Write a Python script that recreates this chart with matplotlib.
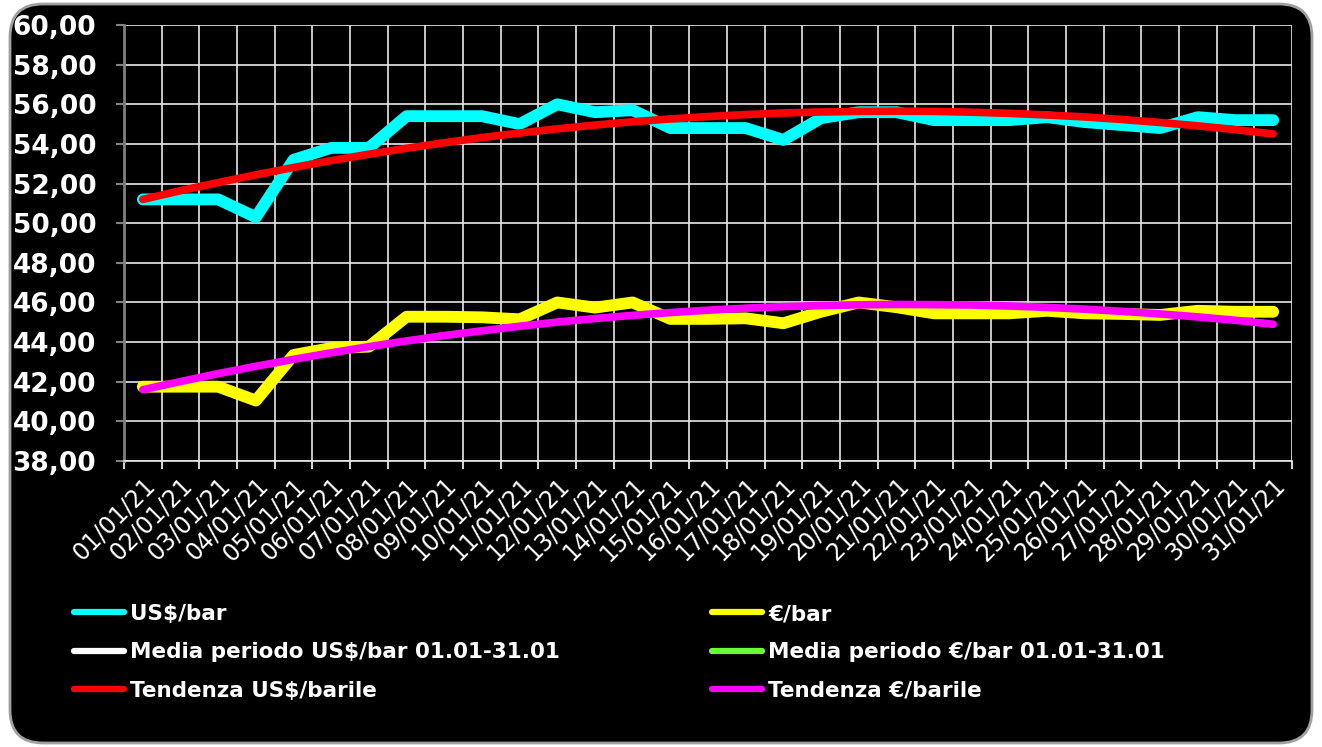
import numpy as np
import matplotlib
matplotlib.use("Agg")
import matplotlib.pyplot as plt
from matplotlib.lines import Line2D
from matplotlib.patches import FancyBboxPatch

plt.rcParams["font.family"] = ["DejaVu Sans"]

dates = [f"{d:02d}/01/21" for d in range(1, 32)]

usd = [51.2, 51.2, 51.2, 50.3, 53.2, 53.8, 53.8, 55.4, 55.4, 55.4, 55.0,
       56.0, 55.6, 55.7, 54.8, 54.8, 54.8, 54.2, 55.3, 55.6, 55.6,
       55.2, 55.2, 55.2, 55.35, 55.1, 54.95, 54.8, 55.35, 55.2, 55.2]
eur = [41.75, 41.75, 41.75, 41.05, 43.35, 43.7, 43.77, 45.28, 45.28, 45.25, 45.15,
       46.0, 45.74, 46.0, 45.17, 45.17, 45.2, 44.95, 45.53, 46.0, 45.76,
       45.45, 45.45, 45.45, 45.58, 45.45, 45.42, 45.37, 45.58, 45.53, 45.53]
trend_usd = [51.20, 51.64, 52.05, 52.44, 52.81, 53.16, 53.48, 53.78, 54.06, 54.32,
             54.55, 54.76, 54.95, 55.12, 55.26, 55.38, 55.48, 55.56, 55.61, 55.64,
             55.65, 55.64, 55.60, 55.54, 55.46, 55.36, 55.23, 55.08, 54.91, 54.72, 54.50]
trend_eur = [41.60, 42.01, 42.41, 42.78, 43.13, 43.46, 43.77, 44.06, 44.33, 44.57,
             44.80, 45.01, 45.19, 45.35, 45.49, 45.61, 45.71, 45.79, 45.84, 45.88,
             45.90, 45.89, 45.87, 45.82, 45.75, 45.66, 45.55, 45.42, 45.27, 45.10, 44.90]
y_ticks = [38, 40, 42, 44, 46, 48, 50, 52, 54, 56, 58, 60]

labels_left = ["US$/bar", "Media periodo US$/bar 01.01-31.01", "Tendenza US$/barile"]
labels_right = ["€/bar", "Media periodo €/bar 01.01-31.01", "Tendenza €/barile"]

W, H = 1322, 747
fig = plt.figure(figsize=(W / 100, H / 100), dpi=100)
fig.patch.set_facecolor("white")

# rounded black frame
frame = FancyBboxPatch((10 / W, 4 / H), (1312 - 10) / W, (743 - 4) / H,
                       boxstyle="round,pad=0,rounding_size=0.025",
                       transform=fig.transFigure, facecolor="black",
                       edgecolor="#a0a0a0", linewidth=2, zorder=-5,
                       mutation_aspect=W / H)
fig.patches.append(frame)

ax = fig.add_axes([124 / W, 1 - 461 / H, (1292 - 124) / W, (461 - 25) / H])
ax.set_facecolor("black")
ax.set_zorder(1)

x = np.arange(len(dates))
kw = dict(solid_capstyle="round", solid_joinstyle="round")
ax.plot(x, usd, color="#00FFFF", lw=8.5, zorder=3, **kw)
ax.plot(x, eur, color="#FFFF00", lw=8.5, zorder=3, **kw)
ax.plot(x, trend_usd, color="#FF0000", lw=5.5, zorder=4, **kw)
ax.plot(x, trend_eur, color="#FF00FF", lw=5.5, zorder=4, **kw)

ax.set_xlim(-0.5, len(dates) - 0.5)
ax.set_ylim(38, 60)
ax.set_yticks(y_ticks)
ax.set_yticklabels([f"{v:.2f}".replace(".", ",") for v in y_ticks],
                   color="white", fontsize=19, fontweight="bold")
ax.set_xticks(x)
ax.set_xticklabels(dates, rotation=45, ha="right", va="top",
                   rotation_mode="anchor", color="white", fontsize=17)
ax.set_xticks(np.arange(-0.5, len(dates)), minor=True)
ax.tick_params(axis="x", which="major", length=0, pad=9)
ax.tick_params(axis="x", which="minor", length=6, color="white", width=1.2)
ax.tick_params(axis="y", length=6, color="#808080", width=1.5, pad=14)

ax.grid(True, axis="y", color="#e8e8e8", lw=1.2, zorder=1)
ax.grid(True, axis="x", which="minor", color="#e8e8e8", lw=1.2, zorder=1)
ax.grid(False, axis="x", which="major")
for s in ["top", "right"]:
    ax.spines[s].set_visible(False)
ax.spines["left"].set_color("#808080")
ax.spines["left"].set_linewidth(2)
ax.spines["bottom"].set_color("#e8e8e8")
ax.spines["bottom"].set_linewidth(1.2)

def handles(colors):
    return [Line2D([], [], color=c, lw=4.5, solid_capstyle="round") for c in colors]

leg_kw = dict(frameon=False, loc="upper left", labelcolor="white",
              prop={"family": "DejaVu Sans", "weight": "bold", "size": 15.5},
              handlelength=2.3, handletextpad=0.3, labelspacing=0.85,
              borderaxespad=0, borderpad=0)
fig.legend(handles(["#00FFFF", "#FFFFFF", "#FF0000"]), labels_left,
           bbox_to_anchor=(74 / W, 1 - 604 / H), **leg_kw)
fig.legend(handles(["#FFFF00", "#66FF33", "#FF00FF"]), labels_right,
           bbox_to_anchor=(712 / W, 1 - 604 / H), **leg_kw)

fig.savefig("out.png", dpi=100, facecolor=fig.get_facecolor())
